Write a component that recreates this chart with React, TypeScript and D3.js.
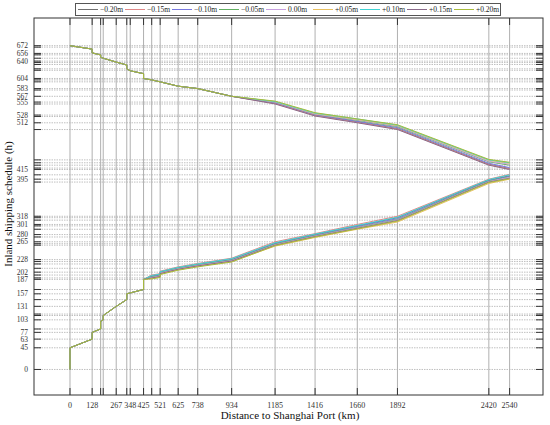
import React from "react";
import * as d3 from "d3";

// ---- data ----
const portKm = [0, 128, 177, 192, 267, 328, 348, 425, 472, 521, 625, 738, 934, 1185, 1416, 1660, 1892, 2420, 2540];
const xTickLabels = [0, 128, 267, 348, 425, 521, 625, 738, 934, 1185, 1416, 1660, 1892, 2420, 2540];

const yLabeled = [672, 656, 640, 604, 583, 567, 555, 528, 512, 415, 395, 318, 301, 280, 265, 228, 202, 187, 157, 131, 103, 77, 63, 45, 0];
const yExtra = [669, 653, 646, 637, 633, 624, 621, 601, 597, 580, 551, 525, 498, 435, 429, 424, 418, 404, 389, 315, 310, 298, 291, 275, 261, 258, 224, 219, 210, 196, 190, 166, 145, 115, 112, 84];

const seriesNames = ["\u22120.20m", "\u22120.15m", "\u22120.10m", "\u22120.05m", "0.00m", "+0.05m", "+0.10m", "+0.15m", "+0.20m"];
const seriesColors = ["#707070", "#e08888", "#7878e0", "#62b062", "#c8a0e0", "#e8c060", "#40d4d4", "#8a6a8a", "#a8bc3c"];

// descending run (common part)
const descHeadKm = [0, 128, 128, 177, 177, 192, 267, 328, 328, 348, 425, 425, 472, 521, 625, 738, 934];
const descHeadH = [672, 665, 657, 653, 648, 646, 638, 632, 624, 620, 614, 604, 601, 597, 588, 583, 567];
const descTailKm = [1185, 1416, 1660, 1892, 2420, 2540];
const descTailH = [
  [553, 528, 514, 500, 426, 417],
  [552, 527, 513, 499, 425, 416],
  [554, 529, 515, 502, 428, 419],
  [555, 530, 517, 504, 431, 424],
  [555, 530, 518, 505, 432, 426],
  [556, 531, 519, 506, 434, 428],
  [556, 532, 520, 507, 435, 429],
  [551, 526, 512, 498, 424, 415],
  [557, 533, 520, 508, 436, 430],
];

// ascending run (common part)
const ascHeadKm = [0, 0, 128, 128, 177, 177, 192, 192, 267, 328, 328, 425, 425];
const ascHeadH = [0, 45, 63, 77, 84, 100, 103, 112, 131, 145, 157, 166, 187];
const ascTailKm = [472, 521, 521, 625, 738, 934, 1185, 1416, 1660, 1892, 2420, 2540];
const ascTailH = [
  [194, 197, 202, 211, 218, 228, 262, 280, 298, 315, 393, 402],
  [196, 199, 204, 213, 220, 231, 265, 282, 301, 318, 395, 405],
  [193, 196, 202, 210, 217, 228, 261, 279, 297, 313, 392, 401],
  [192, 195, 201, 210, 217, 227, 260, 278, 295, 311, 391, 400],
  [191, 194, 200, 209, 216, 226, 259, 277, 294, 310, 390, 399],
  [189, 192, 198, 207, 214, 224, 256, 274, 291, 306, 386, 395],
  [195, 198, 203, 212, 219, 230, 263, 281, 299, 316, 394, 404],
  [190, 193, 199, 208, 215, 225, 258, 276, 293, 309, 389, 397],
  [188, 191, 197, 206, 213, 223, 257, 275, 292, 308, 388, 396],
];

// ---- layout ----
const W = 550, H = 425;
const L = 34, R = 543, T = 18, B = 395;
const FONT = "Liberation Serif, Times New Roman, DejaVu Serif, serif";
const fs = (size: number) => ({ fontFamily: FONT, fontSize: size + "px" });

export default function App() {
  const x = d3.scaleLinear().domain([-208, 2733]).range([L, R]);
  const y = d3.scaleLinear().domain([-53, 729.5]).range([B, T]);
  const line = d3.line<[number, number]>().x(d => x(d[0])).y(d => y(d[1]));

  const makePts = (km: number[], h: number[]) => km.map((k, i) => [k, h[i]] as [number, number]);

  const allY = [...yLabeled, ...yExtra];

  return (
    <svg width={W} height={H} style={{ position: "absolute", left: 0, top: 0, background: "#fff" }}>
      <rect x={0} y={0} width={W} height={H} fill="#fff" />
      {/* horizontal grid */}
      {allY.map((v, i) => (
        <line key={"hg" + i} x1={L} x2={R} y1={y(v)} y2={y(v)} stroke="#c0c0c0" strokeWidth={1} strokeDasharray="1.5,1" />
      ))}
      {/* vertical grid */}
      {portKm.map((k, i) => (
        <line key={"vg" + i} x1={x(k)} x2={x(k)} y1={T} y2={B} stroke="#b0b0b0" strokeWidth={1} />
      ))}
      {/* series */}
      {seriesNames.map((n, si) => (
        <g key={"s" + si}>
          <path d={line([...makePts(descHeadKm, descHeadH), ...makePts(descTailKm, descTailH[si])]) || ""} fill="none" stroke={seriesColors[si]} strokeWidth={1} />
          <path d={line([...makePts(ascHeadKm, ascHeadH), ...makePts(ascTailKm, ascTailH[si])]) || ""} fill="none" stroke={seriesColors[si]} strokeWidth={1} />
        </g>
      ))}
      {/* frame */}
      <rect x={L} y={T} width={R - L} height={B - T} fill="none" stroke="#333" strokeWidth={1} />
      {/* x ticks */}
      {portKm.map((k, i) => (
        <g key={"xt" + i}>
          <line x1={x(k)} x2={x(k)} y1={B} y2={B - 7} stroke="#333" strokeWidth={1} />
          <line x1={x(k)} x2={x(k)} y1={T} y2={T + 7} stroke="#333" strokeWidth={1} />
        </g>
      ))}
      {xTickLabels.map((k, i) => (
        <text key={"xl" + i} x={x(k)} y={408} style={fs(8)} textAnchor="middle" fill="#333">{k}</text>
      ))}
      {/* y ticks */}
      {allY.map((v, i) => (
        <g key={"yt" + i}>
          <line x1={L} x2={L + 7} y1={y(v)} y2={y(v)} stroke="#333" strokeWidth={1} />
          <line x1={R} x2={R - 7} y1={y(v)} y2={y(v)} stroke="#333" strokeWidth={1} />
        </g>
      ))}
      {yLabeled.map((v, i) => (
        <text key={"yl" + i} x={28} y={y(v)} dy="0.33em" style={fs(7.5)} textAnchor="end" fill="#333">{v}</text>
      ))}
      {/* axis titles */}
      <text x={290} y={419} style={fs(11)} textAnchor="middle" fill="#111">Distance to Shanghai Port (km)</text>
      <text transform={`translate(12,204) rotate(-90)`} style={fs(11)} textAnchor="middle" fill="#111">Inland shipping schedule (h)</text>
      {/* legend */}
      <rect x={75.5} y={3.5} width={425} height={12} fill="#fff" stroke="#555" strokeWidth={1} />
      {seriesNames.map((n, i) => {
        const x0 = 78 + i * 47;
        return (
          <g key={"lg" + i}>
            <line x1={x0} x2={x0 + 20} y1={9.5} y2={9.5} stroke={seriesColors[i]} strokeWidth={1} />
            <text x={x0 + 22} y={12.2} style={fs(7.5)} fill="#222">{n}</text>
          </g>
        );
      })}
    </svg>
  );
}
